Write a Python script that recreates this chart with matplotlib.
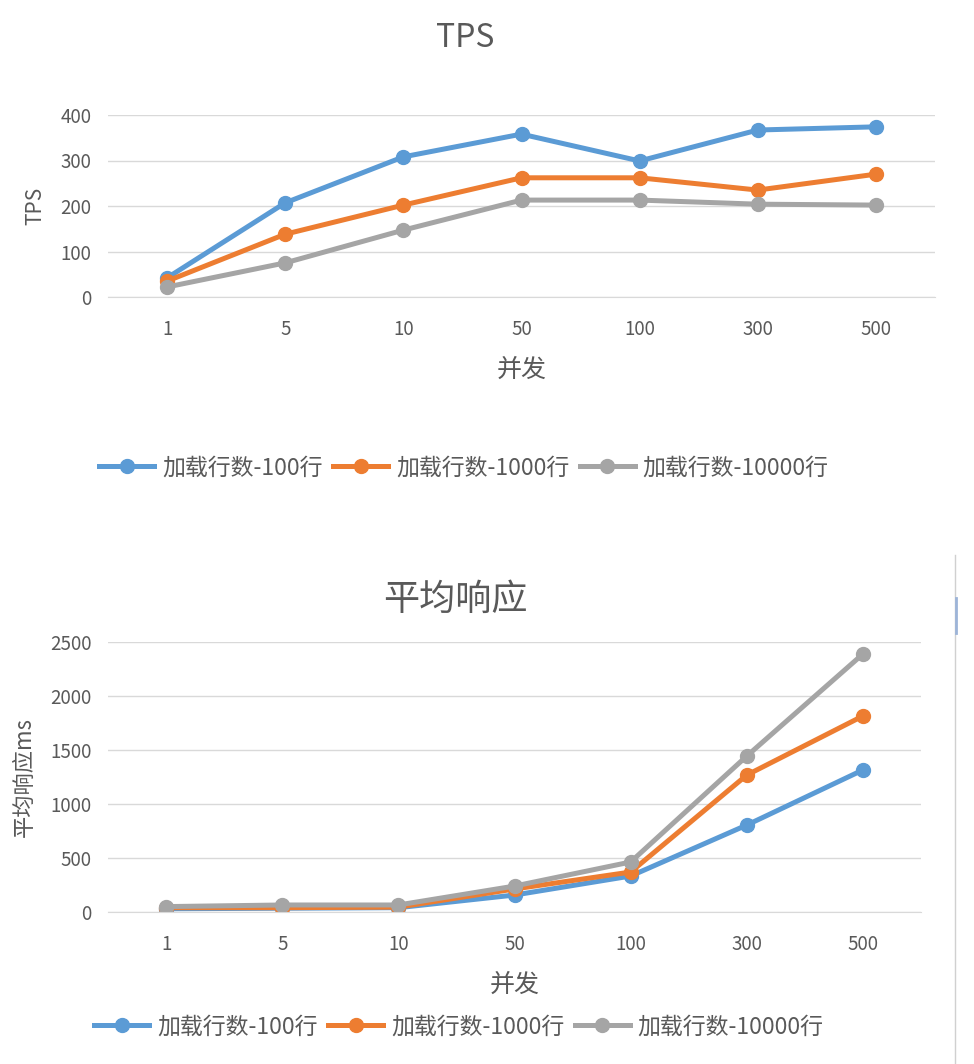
import matplotlib.pyplot as plt
from matplotlib.lines import Line2D

plt.rcParams['font.family'] = ['Noto Sans CJK SC', 'DejaVu Sans']

concurrency = ['1', '5', '10', '50', '100', '300', '500']
series_names = ['加载行数-100行', '加载行数-1000行', '加载行数-10000行']

tps_100 = [42, 207, 308, 358, 299, 367, 374]
tps_1000 = [35, 138, 202, 262, 262, 235, 270]
tps_10000 = [22, 75, 147, 213, 213, 204, 202]

resp_100 = [30, 35, 40, 157, 333, 805, 1315]
resp_1000 = [40, 40, 45, 213, 370, 1268, 1815]
resp_10000 = [50, 65, 65, 240, 463, 1444, 2389]

colors = ['#5B9BD5', '#ED7D31', '#A5A5A5']
text_c = '#595959'
grid_c = '#D9D9D9'

W, H = 974, 1064
fig = plt.figure(figsize=(W / 100, H / 100), dpi=100)


def draw(ax, data, ylim, yticks, ylabel, ylabel_size, title, title_size, title_xy, legend_xy):
    x = range(len(concurrency))
    for vals, c in zip(data, colors):
        ax.plot(x, vals, color=c, lw=3.6, marker='o', ms=10, solid_capstyle='round')
    ax.set_xlim(-0.5, len(concurrency) - 0.5)
    ax.set_ylim(*ylim)
    ax.set_yticks(yticks)
    ax.set_xticks(list(x))
    ax.set_xticklabels(concurrency)
    ax.grid(axis='y', color=grid_c, lw=1)
    ax.set_axisbelow(True)
    for s in ['top', 'right', 'left']:
        ax.spines[s].set_visible(False)
    ax.spines['bottom'].set_color(grid_c)
    ax.tick_params(length=0, labelsize=13.5, labelcolor=text_c, pad=16)
    ax.tick_params(axis='y', pad=12)
    ax.set_xlabel('并发', fontsize=18, color=text_c, labelpad=12)
    ax.set_ylabel(ylabel, fontsize=ylabel_size, color=text_c, labelpad=10)
    fig.text(title_xy[0] / W, 1 - title_xy[1] / H, title, fontsize=title_size,
             color=text_c, ha='center', va='center')
    handles = [Line2D([], [], color=c, lw=3.6, marker='o', ms=10) for c in colors]
    fig.legend(handles, series_names, loc='center',
               bbox_to_anchor=(legend_xy[0] / W, 1 - legend_xy[1] / H),
               ncol=3, frameon=False, fontsize=16.5, labelcolor=text_c,
               handlelength=2.4, handletextpad=0.35, columnspacing=0.45)


ax1 = fig.add_axes([108 / W, 1 - 297 / H, 827 / W, 182 / H])
draw(ax1, [tps_100, tps_1000, tps_10000], (0, 400), [0, 100, 200, 300, 400],
     'TPS', 15, 'TPS', 23, (465, 38), (464, 468))

ax2 = fig.add_axes([108 / W, 1 - 912 / H, 813 / W, 270 / H])
draw(ax2, [resp_100, resp_1000, resp_10000], (0, 2500), [0, 500, 1000, 1500, 2000, 2500],
     '平均响应ms', 16, '平均响应', 26, (455, 600), (459, 1027))

# window edge on the right of the lower chart
fig.add_artist(Line2D([0.981, 0.981], [0, 0.478], color='#D0D0D0', lw=1))
fig.add_artist(Line2D([0.982, 0.982], [0.405, 0.438], color='#9DB4D8', lw=2))

fig.savefig('out.png', dpi=100, facecolor='white')
